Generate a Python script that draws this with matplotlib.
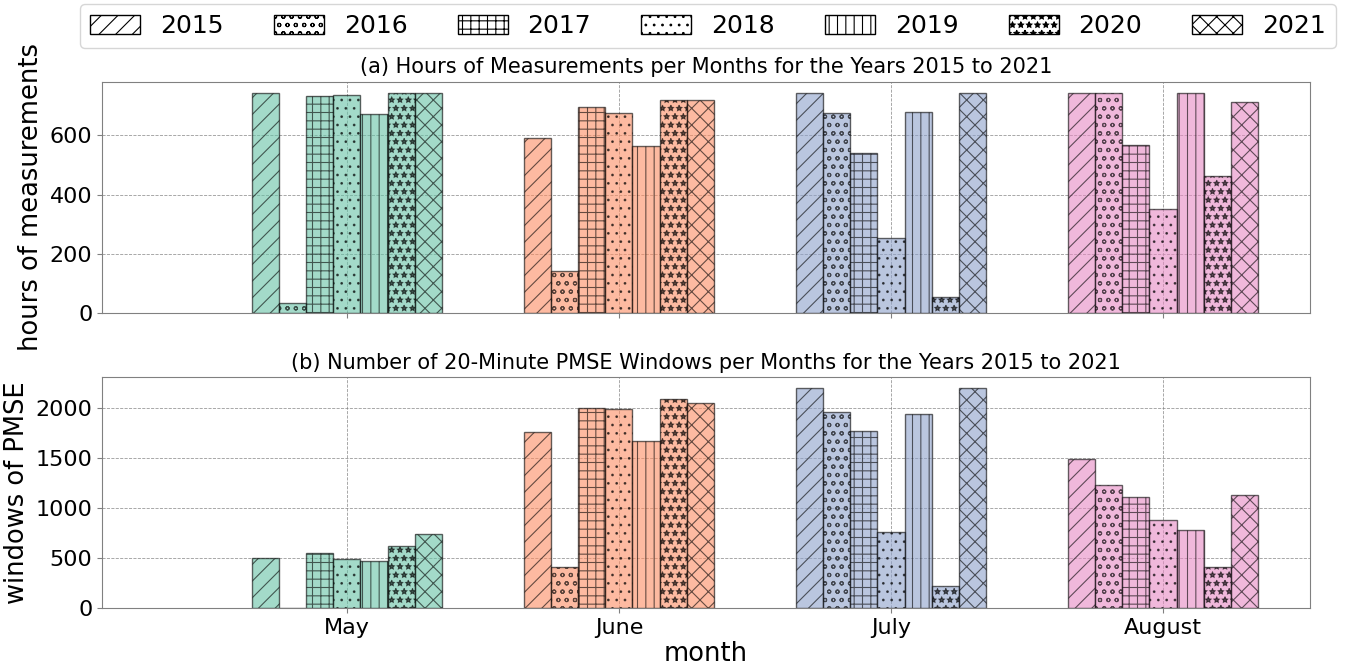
import numpy as np
import matplotlib
matplotlib.use("Agg")
import matplotlib.pyplot as plt
from matplotlib.patches import Patch

months = ["May", "June", "July", "August"]
years = [2015, 2016, 2017, 2018, 2019, 2020, 2021]
hatches = ["//", "oo", "++", "..", "||", "**", "xx"]
month_colors = ["#66c2a5", "#fc8d62", "#8da0cb", "#e78ac3"]

# hours of measurements, one list per year (May, June, July, August)
hours = {
    2015: [744, 591, 744, 744],
    2016: [33, 143, 677, 744],
    2017: [733, 697, 539, 569],
    2018: [738, 677, 253, 350],
    2019: [672, 563, 680, 744],
    2020: [744, 720, 55, 463],
    2021: [744, 720, 744, 714],
}

# number of 20-minute PMSE windows
windows = {
    2015: [506, 1760, 2193, 1493],
    2016: [0, 416, 1960, 1230],
    2017: [550, 2000, 1770, 1113],
    2018: [493, 1990, 763, 883],
    2019: [470, 1666, 1943, 780],
    2020: [626, 2090, 220, 416],
    2021: [740, 2050, 2193, 1133],
}

plt.rcParams["hatch.linewidth"] = 0.8

width = 0.1
x = np.arange(len(months))

fig, (ax1, ax2) = plt.subplots(2, 1, figsize=(13.49, 6.65), dpi=100, sharex=True)
fig.subplots_adjust(left=0.0756, right=0.971, top=0.877, bottom=0.085, hspace=0.28)


def draw(ax, daten):
    for i, jahr in enumerate(years):
        pos = x + (i - 3) * width
        ax.bar(pos, daten[jahr], width=width, color=month_colors, alpha=0.6,
               edgecolor="black", hatch=hatches[i], linewidth=1)
    ax.grid(True, linestyle="--", color="gray", linewidth=0.6, alpha=0.8)
    ax.set_axisbelow(True)
    for s in ax.spines.values():
        s.set_color("gray")
    ax.tick_params(labelsize=16, color="gray")
    ax.set_xlim(-0.9, 3.54)


draw(ax1, hours)
draw(ax2, windows)

ax1.set_title("(a) Hours of Measurements per Months for the Years 2015 to 2021", fontsize=15)
ax2.set_title("(b) Number of 20-Minute PMSE Windows per Months for the Years 2015 to 2021", fontsize=15)
ax1.set_ylabel("hours of measurements", fontsize=18.5)
ax2.set_ylabel("windows of PMSE", fontsize=18.5)
ax2.set_xlabel("month", fontsize=18.5, labelpad=2)
ax2.set_xticks(x)
ax2.set_xticklabels(months)
ax1.set_yticks([0, 200, 400, 600])
ax2.set_yticks([0, 500, 1000, 1500, 2000])

handles = [Patch(facecolor="white", edgecolor="black", hatch=h, label=str(j))
           for h, j in zip(hatches, years)]
fig.legend(handles=handles, loc="upper center", ncol=7, fontsize=18,
           bbox_to_anchor=(0.525, 1.013), handlelength=2.0, handleheight=0.8,
           handletextpad=0.8, columnspacing=2.0)

fig.savefig("out.png", dpi=100)
